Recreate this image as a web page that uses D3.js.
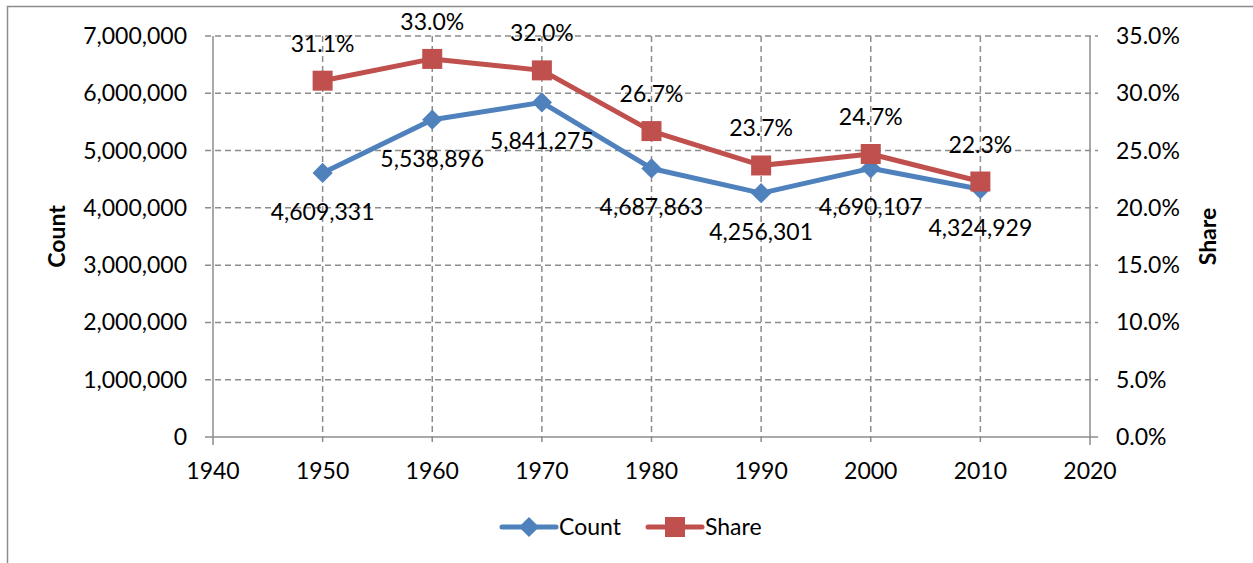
<!DOCTYPE html>
<html>
<head>
<meta charset="utf-8">
<script src="https://cdn.jsdelivr.net/npm/d3@7"></script>
<style>
  body { margin: 0; background: #fff; }
  text { font-family: Lato, "Open Sans", sans-serif; fill: #000; }
</style>
</head>
<body>
<svg id="chart" width="1253" height="563"></svg>
<script>
// chart data
const years = [1950, 1960, 1970, 1980, 1990, 2000, 2010];
const counts = [4609331, 5538896, 5841275, 4687863, 4256301, 4690107, 4324929];
const shares = [0.311, 0.330, 0.320, 0.267, 0.237, 0.247, 0.223];
const xTicks = [1940, 1950, 1960, 1970, 1980, 1990, 2000, 2010, 2020];
const countTicks = [0, 1000000, 2000000, 3000000, 4000000, 5000000, 6000000, 7000000];
const shareTicks = [0, 0.05, 0.10, 0.15, 0.20, 0.25, 0.30, 0.35];

const blue = "#4f81bd", red = "#c0504d", grid = "#8c8c8c";
const fs = 23;

const svg = d3.select("#chart");

// outer frame
svg.append("rect")
    .attr("x", 7.5).attr("y", 6.5)
    .attr("width", 1260).attr("height", 600)
    .attr("fill", "none").attr("stroke", "#8c8c8c").attr("stroke-width", 1.5);

const pLeft = 213, pRight = 1090, pTop = 36, pBottom = 437;

const x = d3.scaleLinear().domain([1940, 2020]).range([pLeft, pRight]);
const yC = d3.scaleLinear().domain([0, 7000000]).range([pBottom, pTop]);
const yS = d3.scaleLinear().domain([0, 0.35]).range([pBottom, pTop]);

// horizontal gridlines
svg.append("g").selectAll("line")
    .data(countTicks.slice(1))
    .enter().append("line")
    .attr("x1", pLeft - 8).attr("x2", pRight + 8)
    .attr("y1", d => yC(d)).attr("y2", d => yC(d))
    .attr("stroke", grid).attr("stroke-width", 1.5)
    .attr("stroke-dasharray", "6,4");

// vertical gridlines
svg.append("g").selectAll("line")
    .data(xTicks.slice(1, -1))
    .enter().append("line")
    .attr("x1", d => x(d)).attr("x2", d => x(d))
    .attr("y1", pTop).attr("y2", pBottom + 8)
    .attr("stroke", grid).attr("stroke-width", 1.5)
    .attr("stroke-dasharray", "6,4");

// axis lines
const axes = svg.append("g").attr("stroke", grid).attr("stroke-width", 1.5);
axes.append("line").attr("x1", pLeft).attr("x2", pLeft).attr("y1", pTop).attr("y2", pBottom + 8);
axes.append("line").attr("x1", pRight).attr("x2", pRight).attr("y1", pTop).attr("y2", pBottom + 8);
axes.append("line").attr("x1", pLeft - 8).attr("x2", pRight + 8).attr("y1", pBottom).attr("y2", pBottom);

// tick labels
const fmt = d3.format(",");
const pct = d3.format(".1%");
svg.append("g").selectAll("text")
    .data(countTicks).enter().append("text")
    .attr("x", pLeft - 26).attr("y", d => yC(d) + 8)
    .attr("text-anchor", "end").attr("font-size", fs)
    .text(d => fmt(d));

svg.append("g").selectAll("text")
    .data(shareTicks).enter().append("text")
    .attr("x", pRight + 26).attr("y", d => yS(d) + 8)
    .attr("text-anchor", "start").attr("font-size", fs)
    .text(d => pct(d));

svg.append("g").selectAll("text")
    .data(xTicks).enter().append("text")
    .attr("x", d => x(d)).attr("y", pBottom + 42)
    .attr("text-anchor", "middle").attr("font-size", fs)
    .text(d => d);

// axis titles
svg.append("text")
    .attr("transform", `translate(65,${(pTop + pBottom) / 2}) rotate(-90)`)
    .attr("text-anchor", "middle").attr("font-size", fs).attr("font-weight", "bold")
    .text("Count");
svg.append("text")
    .attr("transform", `translate(1216,${(pTop + pBottom) / 2}) rotate(-90)`)
    .attr("text-anchor", "middle").attr("font-size", fs).attr("font-weight", "bold")
    .text("Share");

// lines
const countData = years.map((y, i) => ({ year: y, v: counts[i] }));
const shareData = years.map((y, i) => ({ year: y, v: shares[i] }));

svg.append("path").datum(countData)
    .attr("d", d3.line().x(d => x(d.year)).y(d => yC(d.v)))
    .attr("fill", "none").attr("stroke", blue).attr("stroke-width", 5)
    .attr("stroke-linejoin", "round");
svg.append("path").datum(shareData)
    .attr("d", d3.line().x(d => x(d.year)).y(d => yS(d.v)))
    .attr("fill", "none").attr("stroke", red).attr("stroke-width", 5)
    .attr("stroke-linejoin", "round");

// markers
const diamond = d3.symbol().type(d3.symbolDiamond2).size(260);
svg.append("g").selectAll("path")
    .data(countData).enter().append("path")
    .attr("d", diamond)
    .attr("transform", d => `translate(${x(d.year)},${yC(d.v)})`)
    .attr("fill", blue);

svg.append("g").selectAll("rect")
    .data(shareData).enter().append("rect")
    .attr("x", d => x(d.year) - 10).attr("y", d => yS(d.v) - 10)
    .attr("width", 20).attr("height", 20)
    .attr("fill", red);

// data labels
svg.append("g").selectAll("text")
    .data(countData).enter().append("text")
    .attr("x", d => x(d.year)).attr("y", d => yC(d.v) + 47)
    .attr("text-anchor", "middle").attr("font-size", fs)
    .text(d => fmt(d.v));

svg.append("g").selectAll("text")
    .data(shareData).enter().append("text")
    .attr("x", d => x(d.year)).attr("y", d => yS(d.v) - 29)
    .attr("text-anchor", "middle").attr("font-size", fs)
    .text(d => pct(d.v));

// legend
const leg = svg.append("g");
leg.append("line").attr("x1", 502).attr("x2", 556).attr("y1", 527).attr("y2", 527)
    .attr("stroke", blue).attr("stroke-width", 5).attr("stroke-linecap", "round");
leg.append("path").attr("d", diamond).attr("transform", "translate(529,527)").attr("fill", blue);
leg.append("text").attr("x", 559).attr("y", 535).attr("font-size", fs).text("Count");
leg.append("line").attr("x1", 648).attr("x2", 702).attr("y1", 527).attr("y2", 527)
    .attr("stroke", red).attr("stroke-width", 5).attr("stroke-linecap", "round");
leg.append("rect").attr("x", 665).attr("y", 517).attr("width", 20).attr("height", 20).attr("fill", red);
leg.append("text").attr("x", 705).attr("y", 535).attr("font-size", fs).text("Share");
</script>
</body>
</html>
